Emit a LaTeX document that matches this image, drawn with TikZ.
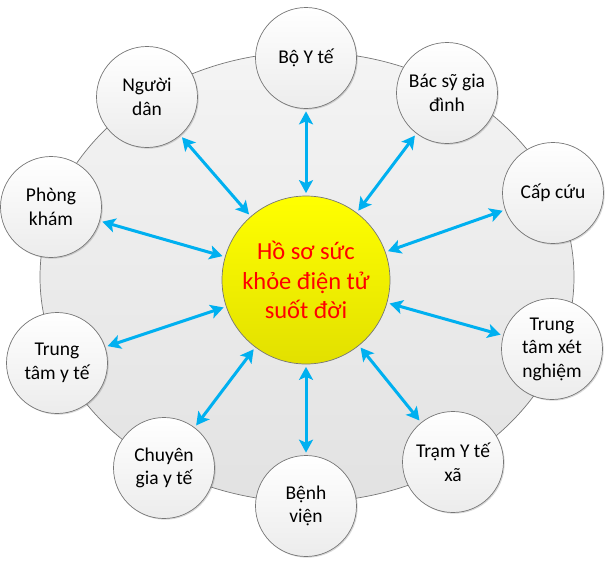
\documentclass[tikz,border=0pt]{standalone}
\usepackage{fontspec}
\setmainfont{Carlito}
\usetikzlibrary{arrows.meta,shadows}
\definecolor{arrowblue}{RGB}{0,176,240}
\definecolor{edgegrey}{RGB}{118,118,118}
\definecolor{circbot}{RGB}{236,236,236}
\definecolor{ringtop}{RGB}{244,244,244}
\definecolor{ringbot}{RGB}{226,226,226}
\definecolor{hubtop}{RGB}{255,255,0}
\definecolor{hubbot}{RGB}{226,224,0}
\begin{document}
\begin{tikzpicture}[x=1pt,y=-1pt,
  smallnode/.style={circle, draw=edgegrey, line width=0.7pt, minimum size=101pt,
    inner sep=0pt, align=center, top color=white, bottom color=circbot,
    drop shadow={shadow xshift=1.2pt, shadow yshift=-1.2pt, opacity=0.15, fill=black},
    font=\fontsize{19.5}{23.5}\selectfont},
  hubnode/.style={circle, draw=edgegrey, line width=0.7pt, minimum size=168pt,
    inner sep=0pt, align=center, top color=hubtop, bottom color=hubbot,
    text=red, font=\fontsize{24.5}{29.5}\selectfont},
  link/.style={draw=arrowblue, line width=3pt,
    {Stealth[length=13pt,width=14pt,inset=3pt]}-{Stealth[length=13pt,width=14pt,inset=3pt]},
    shorten <=2.5pt, shorten >=2.5pt}]
\useasboundingbox (0,0) rectangle (612,568);
% background ring
\path[draw=edgegrey, line width=0.7pt, top color=ringtop, bottom color=ringbot]
  (307,277) ellipse [x radius=267, y radius=225];
% hub
\node[hubnode] (hub) at (306,280) {Hồ sơ sức\\khỏe điện tử\\suốt đời};
% satellites
\node[smallnode] (boyte) at (306,58) {Bộ Y tế};
\node[smallnode] (bacsy) at (447,93) {Bác sỹ gia\\đình};
\node[smallnode] (capcuu) at (553,193) {Cấp cứu};
\node[smallnode] (xetnghiem) at (552,349) {Trung\\tâm xét\\nghiệm};
\node[smallnode] (tramyte) at (453,462) {Trạm Y tế\\xã};
\node[smallnode] (benhvien) at (306,506) {Bệnh\\viện};
\node[smallnode] (chuyengia) at (164,468) {Chuyên\\gia y tế};
\node[smallnode] (ttyte) at (57,363) {Trung\\tâm y tế};
\node[smallnode] (phongkham) at (51,207) {Phòng\\khám};
\node[smallnode] (nguoidan) at (147,97) {Người\\dân};
% connectors
\foreach \n in {boyte,bacsy,capcuu,xetnghiem,tramyte,benhvien,chuyengia,ttyte,phongkham,nguoidan}
  \draw[link] (hub) -- (\n);
\end{tikzpicture}
\end{document}
